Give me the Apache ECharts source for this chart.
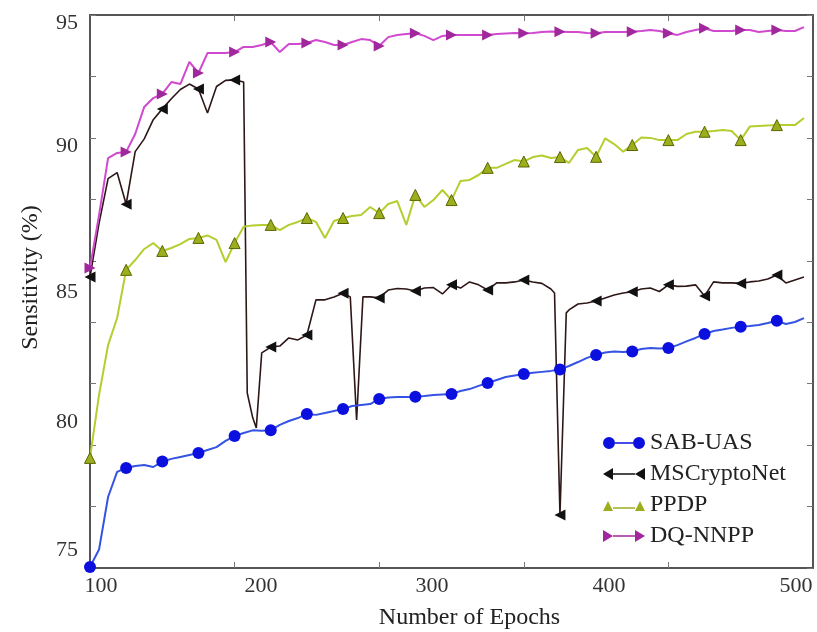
<!DOCTYPE html>
<html>
<head>
<meta charset="utf-8">
<title>Sensitivity vs Number of Epochs</title>
<script src="https://cdn.jsdelivr.net/npm/echarts@6/dist/echarts.min.js"></script>
<style>
  html, body { margin: 0; padding: 0; background: #fff; }
  #chart { width: 817px; height: 632px; }
</style>
</head>
<body>
<div id="chart"></div>
<script>
// epochs shared by SAB-UAS, PPDP and DQ-NNPP (step 5)
const epochs = [100,105,110,115,120,125,130,135,140,145,150,155,160,165,170,175,180,185,190,195,
  200,205,210,215,220,225,230,235,240,245,250,255,260,265,270,275,280,285,290,295,
  300,305,310,315,320,325,330,335,340,345,350,355,360,365,370,375,380,385,390,395,
  400,405,410,415,420,425,430,435,440,445,450,455,460,465,470,475,480,485,490,495];

const sabUas = [72.54,73.25,75.39,76.41,76.57,76.65,76.69,76.61,76.83,76.94,77.02,77.10,77.18,77.30,77.42,77.67,77.87,77.99,78.10,78.08,
  78.10,78.32,78.48,78.60,78.77,78.73,78.81,78.89,78.97,79.09,79.13,79.17,79.38,79.44,79.46,79.46,79.47,79.50,79.54,79.56,
  79.58,79.70,79.78,79.91,80.03,80.15,80.27,80.33,80.39,80.44,80.48,80.52,80.58,80.72,80.88,81.05,81.17,81.27,81.31,81.29,
  81.31,81.41,81.45,81.43,81.45,81.57,81.72,81.86,82.02,82.14,82.20,82.27,82.32,82.35,82.39,82.47,82.56,82.43,82.51,82.67];

const ppdp = [76.98,79.54,81.57,82.67,84.63,85.03,85.48,85.72,85.40,85.52,85.68,85.89,85.93,86.03,85.85,84.95,85.72,86.38,86.44,86.46,
  86.46,86.25,86.46,86.58,86.74,86.58,85.93,86.62,86.74,86.82,86.86,87.19,86.94,87.31,87.43,86.46,87.68,87.19,87.47,87.88,
  87.47,88.25,88.29,88.49,88.78,88.78,88.94,89.10,89.04,89.22,89.28,89.18,89.22,88.98,89.51,89.59,89.23,89.98,89.75,89.44,
  89.71,90.02,90.00,89.91,89.91,89.91,90.16,90.25,90.25,90.28,90.32,90.28,89.91,90.46,90.48,90.50,90.52,90.52,90.52,90.81];

const dqNnpp = [84.71,86.86,89.18,89.39,89.43,90.16,91.26,91.62,91.79,92.27,92.19,93.09,92.64,93.45,93.45,93.45,93.49,93.70,93.70,93.78,
  93.90,93.49,93.82,93.82,93.86,93.98,93.90,93.78,93.78,93.90,94.02,93.98,93.74,94.10,94.19,94.23,94.26,94.15,93.98,94.15,
  94.19,94.19,94.19,94.19,94.19,94.23,94.25,94.27,94.26,94.27,94.31,94.33,94.32,94.31,94.31,94.27,94.26,94.31,94.31,94.31,
  94.32,94.35,94.39,94.35,94.26,94.19,94.31,94.39,94.46,94.35,94.35,94.35,94.39,94.39,94.31,94.35,94.39,94.35,94.35,94.51];

// MSCryptoNet has a few extra points around its sudden drops
const msEpochs = [100,105,110,115,120,125,130,135,140,145,150,155,160,165,170,175,180,185,187,190,192,195,
  200,205,210,215,220,225,230,235,240,244,247.5,251,255,260,265,270,275,280,285,290,295,
  300,305,310,315,320,325,330,335,340,345,350,355,357,360,363.5,365,370,375,380,385,390,395,
  400,405,410,415,420,425,430,435,440,445,450,455,460,465,470,475,480,485,490,495];
const msCryptoNet = [84.34,86.52,88.34,88.59,87.30,89.44,89.96,90.74,91.18,91.59,91.97,92.19,91.99,91.01,92.09,92.34,92.36,92.27,79.62,78.62,78.20,81.25,
  81.49,81.53,81.86,81.78,81.98,83.41,83.41,83.53,83.68,83.53,78.52,83.53,83.53,83.49,83.81,83.87,83.85,83.77,83.89,83.91,83.65,
  84.02,83.89,84.14,84.02,83.81,84.10,84.10,84.14,84.22,84.14,84.08,83.85,83.69,74.66,82.88,83.00,83.24,83.28,83.36,83.49,83.61,83.69,
  83.74,83.85,83.89,83.75,84.02,83.96,83.97,84.02,83.57,84.14,84.10,84.10,84.08,84.14,84.18,84.26,84.42,84.10,84.22,84.34];

// tick labels, placed where the figure prints them
const xLabelPos = [106.1, 194.6, 289.2, 387.1, 490.6];
const xLabelText = ['100', '200', '300', '400', '500'];
const xTickPos = [180, 260, 340, 420];
const yLabelPos = [94.67, 89.67, 83.73, 78.44, 73.23];
const yLabelText = ['95', '90', '85', '80', '75'];

const serif = "'Liberation Serif', 'Times New Roman', serif";
const frame = '#555';

function labelFor(pos, text) {
  return function (v) {
    for (let i = 0; i < pos.length; i++) {
      if (Math.abs(pos[i] - v) < 1e-6) return text[i];
    }
    return '';
  };
}

// marker on every 20 epochs, plain line elsewhere
function buildData(xs, ys) {
  return xs.map(function (x, i) {
    if ((x - 100) % 20 === 0 && x <= 480) return [x, ys[i]];
    return { value: [x, ys[i]], symbol: 'none' };
  });
}

const leftTri = 'path://M0,5L10,0L10,10Z';
const rightTri = 'path://M10,5L0,0L0,10Z';

const chart = echarts.init(document.getElementById('chart'));
const option = {
  animation: false,
  backgroundColor: '#fff',
  grid: { left: 90, right: 4, top: 15, bottom: 64, outerBoundsMode: 'none' },
  legend: {
    orient: 'vertical',
    left: 598,
    top: 426,
    itemWidth: 42,
    itemHeight: 12,
    itemGap: 7,
    selectedMode: false,
    itemStyle: { borderWidth: 0 },
    textStyle: { fontFamily: serif, fontSize: 24, color: '#222' },
    data: [
      { name: 'SAB-UAS', icon: 'path://M0,6A6,6 0 1,1 12,6A6,6 0 1,1 0,6Z M12,5.3L30,5.3L30,6.7L12,6.7Z M30,6A6,6 0 1,1 42,6A6,6 0 1,1 30,6Z' },
      { name: 'MSCryptoNet', icon: 'path://M0,6L10,0L10,12Z M10,5.3L32,5.3L32,6.7L10,6.7Z M32,6L42,0L42,12Z' },
      { name: 'PPDP', icon: 'path://M0,12L5,2L10,12Z M10,8.3L32,8.3L32,9.7L10,9.7Z M32,12L37,2L42,12Z M0,0L0.01,0L0,0.01Z' },
      { name: 'DQ-NNPP', icon: 'path://M0,0L10,6L0,12Z M10,5.3L32,5.3L32,6.7L10,6.7Z M32,0L42,6L32,12Z' }
    ]
  },
  xAxis: [{
    type: 'value',
    min: 100,
    max: 500,
    name: 'Number of Epochs',
    nameLocation: 'middle',
    nameGap: 38,
    nameTextStyle: { fontFamily: serif, fontSize: 24, color: '#222', padding: [0, 0, 0, 36] },
    axisLine: { show: true, onZero: false, lineStyle: { color: frame, width: 2 } },
    axisTick: { show: true, inside: true, length: 6, customValues: xTickPos, lineStyle: { color: '#777' } },
    axisLabel: {
      customValues: xLabelPos,
      formatter: labelFor(xLabelPos, xLabelText),
      fontFamily: serif, fontSize: 22, color: '#333', margin: 7
    },
    splitLine: { show: false }
  }, {
    type: 'value',
    position: 'top',
    min: 100,
    max: 500,
    axisLine: { show: true, onZero: false, lineStyle: { color: frame, width: 2 } },
    axisTick: { show: true, inside: true, length: 6, customValues: xTickPos, lineStyle: { color: '#777' } },
    axisLabel: { show: false },
    splitLine: { show: false }
  }],
  yAxis: [{
    type: 'value',
    min: 72.5,
    max: 95,
    interval: 2.5,
    name: 'Sensitivity (%)',
    nameLocation: 'middle',
    nameGap: 47,
    nameTextStyle: { fontFamily: serif, fontSize: 24, color: '#222', padding: [0, 0, 0, 28] },
    axisLine: { show: true, onZero: false, lineStyle: { color: frame, width: 2 } },
    axisTick: { show: true, inside: true, length: 6, lineStyle: { color: '#777' } },
    axisLabel: {
      customValues: yLabelPos,
      formatter: labelFor(yLabelPos, yLabelText),
      fontFamily: serif, fontSize: 22, color: '#333', margin: 12
    },
    splitLine: { show: false }
  }, {
    type: 'value',
    position: 'right',
    min: 72.5,
    max: 95,
    interval: 2.5,
    axisLine: { show: true, onZero: false, lineStyle: { color: frame, width: 2 } },
    axisTick: { show: true, inside: true, length: 6, lineStyle: { color: '#777' } },
    axisLabel: { show: false },
    splitLine: { show: false }
  }],
  series: [{
    name: 'SAB-UAS',
    type: 'line',
    data: buildData(epochs, sabUas),
    symbol: 'circle',
    symbolSize: 12,
    showAllSymbol: true,
    lineStyle: { color: '#3553e2', width: 2 },
    itemStyle: { color: '#0c10de' },
    emphasis: { disabled: true },
    z: 4
  }, {
    name: 'MSCryptoNet',
    type: 'line',
    data: buildData(msEpochs, msCryptoNet),
    symbol: leftTri,
    symbolSize: 11,
    showAllSymbol: true,
    lineStyle: { color: '#2e1717', width: 1.6 },
    itemStyle: { color: '#111' },
    emphasis: { disabled: true },
    z: 3
  }, {
    name: 'PPDP',
    type: 'line',
    data: buildData(epochs, ppdp),
    symbol: 'triangle',
    symbolSize: 11,
    showAllSymbol: true,
    lineStyle: { color: '#b6cd30', width: 2 },
    itemStyle: { color: '#9cae1e', borderColor: '#5b6500', borderWidth: 1 },
    emphasis: { disabled: true },
    z: 3
  }, {
    name: 'DQ-NNPP',
    type: 'line',
    data: buildData(epochs, dqNnpp),
    symbol: rightTri,
    symbolSize: 11,
    showAllSymbol: true,
    lineStyle: { color: '#d049cf', width: 2 },
    itemStyle: { color: '#a1279c' },
    emphasis: { disabled: true },
    z: 3
  }]
};
chart.setOption(option);
</script>
</body>
</html>
